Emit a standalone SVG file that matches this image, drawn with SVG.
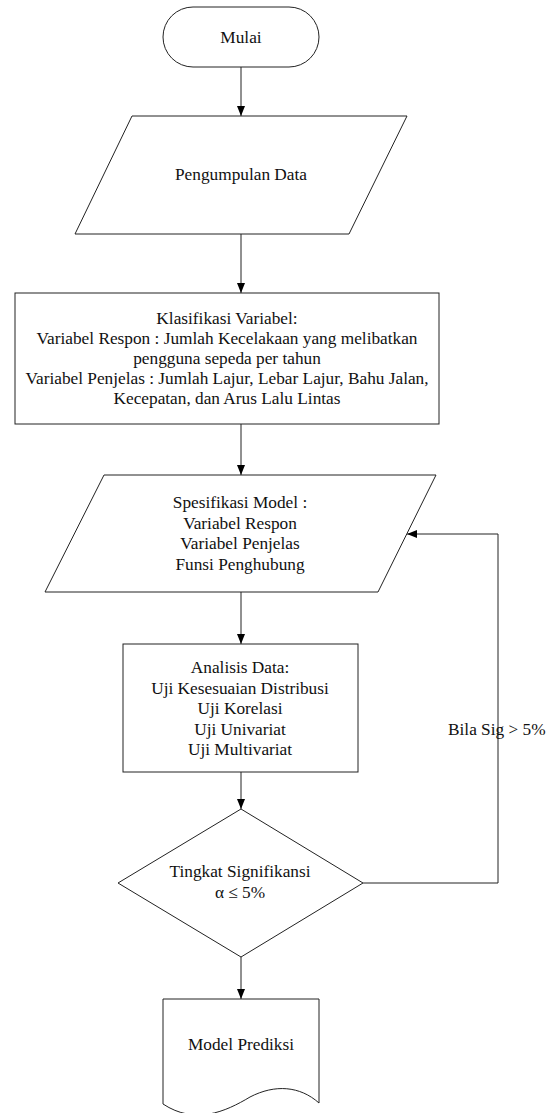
<svg xmlns="http://www.w3.org/2000/svg" width="555" height="1113" viewBox="0 0 555 1113">
<defs>
<marker id="arr" markerWidth="10" markerHeight="10" refX="10" refY="5" orient="auto" markerUnits="userSpaceOnUse">
<path d="M0,1 L10,5 L0,9 Z" fill="#000"/>
</marker>
<style>
.s{fill:#fff;stroke:#222;stroke-width:1}
.t{font-family:'Liberation Serif','Tinos','Times New Roman','DejaVu Serif',serif;font-size:17.3px;fill:#111;text-anchor:middle}
.c{fill:none;stroke:#222;stroke-width:1}
</style>
</defs>
<rect width="555" height="1113" fill="#fff"/>
<g id="connectors">
<line class="c" x1="241" y1="67" x2="241" y2="116" marker-end="url(#arr)"/>
<line class="c" x1="241" y1="234" x2="241" y2="293" marker-end="url(#arr)"/>
<line class="c" x1="241" y1="424" x2="241" y2="475" marker-end="url(#arr)"/>
<line class="c" x1="241" y1="592" x2="241" y2="644" marker-end="url(#arr)"/>
<line class="c" x1="241" y1="772" x2="241" y2="809" marker-end="url(#arr)"/>
<line class="c" x1="241" y1="957" x2="241" y2="999" marker-end="url(#arr)"/>
<polyline class="c" points="363,883 498,883 498,534 407,534" marker-end="url(#arr)"/>
<text class="t" x="448" y="735" style="text-anchor:start" font-family="Liberation Serif, serif">Bila Sig &gt; 5%</text>
</g>
<g id="mulai">
<rect class="s" x="163" y="7" width="156" height="60" rx="30" ry="30"/>
<text class="t" x="241" y="43">Mulai</text>
</g>
<g id="pengumpulan">
<polygon class="s" points="132,116 407,116 349,234 75,234"/>
<text class="t" x="241" y="180">Pengumpulan Data</text>
</g>
<g id="klasifikasi">
<rect class="s" x="15" y="293" width="424" height="131"/>
<text class="t" x="227" y="324">Klasifikasi Variabel:</text>
<text class="t" x="227" y="344">Variabel Respon : Jumlah Kecelakaan yang melibatkan</text>
<text class="t" x="227" y="364">pengguna sepeda per tahun</text>
<text class="t" x="227" y="384">Variabel Penjelas : Jumlah Lajur, Lebar Lajur, Bahu Jalan,</text>
<text class="t" x="227" y="404">Kecepatan, dan Arus Lalu Lintas</text>
</g>
<g id="spesifikasi">
<polygon class="s" points="104,475 436,475 378,592 45,592"/>
<text class="t" x="240" y="508">Spesifikasi Model :</text>
<text class="t" x="240" y="529">Variabel Respon</text>
<text class="t" x="240" y="549">Variabel Penjelas</text>
<text class="t" x="240" y="570">Funsi Penghubung</text>
</g>
<g id="analisis">
<rect class="s" x="123" y="644" width="235" height="128"/>
<text class="t" x="240" y="673">Analisis Data:</text>
<text class="t" x="240" y="693.5">Uji Kesesuaian Distribusi</text>
<text class="t" x="240" y="714">Uji Korelasi</text>
<text class="t" x="240" y="734.5">Uji Univariat</text>
<text class="t" x="240" y="755">Uji Multivariat</text>
</g>
<g id="signifikansi">
<polygon class="s" points="241,809 363,883 241,957 118,883"/>
<text class="t" x="240" y="877">Tingkat Signifikansi</text>
<text class="t" x="240" y="898">α ≤ 5%</text>
</g>
<g id="model-prediksi">
<path class="s" d="M163,999 H319 V1103 C300,1086 275,1084 250,1097 C225,1112 195,1125 163,1104 Z"/>
<text class="t" x="241" y="1050">Model Prediksi</text>
</g>
</svg>
